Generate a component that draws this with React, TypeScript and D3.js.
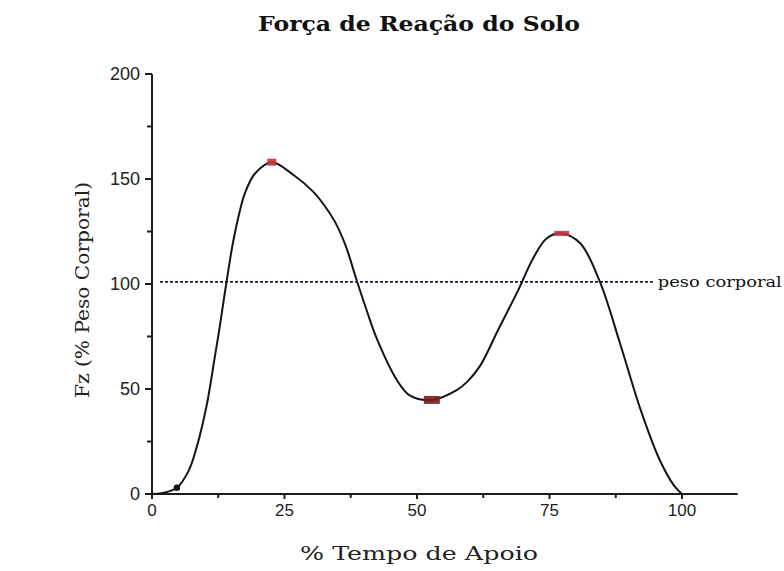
import React from "react";
import * as d3 from "d3";

const title = "Força de Reação do Solo";
const xTitle = "% Tempo de Apoio";
const yTitle = "Fz (% Peso Corporal)";
const refLabel = "peso corporal";

const xTicks = [0, 25, 50, 75, 100];
const xMinorTicks = [12.5, 37.5, 62.5, 87.5];
const yTicks = [0, 50, 100, 150, 200];
const yMinorTicks = [25, 75, 125, 175];

const curveX = [0, 2, 4.7, 6.9, 8.4, 10.3, 11.9, 12.8, 14, 15.3, 16.5, 17.5, 19.4, 22.6, 26.7, 30.4, 32.5, 34.5, 36.5, 38.6, 40.5, 42.4, 46.2, 48.7, 52.8, 57.5, 59.5, 61.9, 65.3, 69.1, 71.9, 74.5, 77.3, 80.8, 84.5, 88.3, 92.1, 95.8, 98.5, 100];
const curveY = [0, 0.5, 3, 11, 22, 42, 66, 80, 100, 120, 134, 143, 152.5, 158, 151.9, 144, 137.5, 129.7, 118.5, 101.9, 87.5, 74.1, 54.3, 46.8, 44.8, 49.5, 53.5, 61, 78.1, 97.1, 112.2, 121.8, 124.1, 119.4, 101.1, 71.8, 40.8, 16.2, 4, 0];

const markerX = [22.6, 52.8, 77.3];
const markerY = [158, 44.8, 124.1];
const dotX = [4.7];
const dotY = [3];

const refValue = 101;
const refStart = 1.5;
const refEnd = 94.5;

const markerStyles = [
  { w: 9, h: 7, fill: "#c8323c" },
  { w: 16, h: 8, fill: "#7a1c22" },
  { w: 15, h: 5, fill: "#c8323c" },
];

export default function App() {
  const x = d3.scaleLinear().domain([0, 100]).range([152, 682]);
  const y = d3.scaleLinear().domain([0, 200]).range([494, 74]);
  const pts: [number, number][] = curveX.map((v, i) => [v, curveY[i]]);
  const line = d3
    .line<[number, number]>()
    .x((d) => x(d[0]))
    .y((d) => y(d[1]))
    .curve(d3.curveCatmullRom.alpha(0.5));
  const axisColor = "#1e1e1e";
  const tickFont = "'Liberation Sans', Arial, sans-serif";
  const serif = "'DejaVu Serif', 'Liberation Serif', serif";
  const xEnd = 110.5;

  return (
    <svg width={784} height={571} style={{ display: "block", position: "absolute", left: 0, top: 0, background: "#fff" }}>
      <rect x={0} y={0} width={784} height={571} fill="#fff" />
      <text x={419} y={31} textAnchor="middle" fontFamily={serif} fontWeight="bold" fontSize={20} fill="#111" textLength={322} lengthAdjust="spacingAndGlyphs">
        {title}
      </text>

      {/* axes */}
      <line x1={x(0)} x2={x(0)} y1={y(0)} y2={y(200)} stroke={axisColor} strokeWidth={2} />
      <line x1={x(0)} x2={x(xEnd)} y1={y(0)} y2={y(0)} stroke={axisColor} strokeWidth={2} />
      {yTicks.map((t) => (
        <g key={"yt" + t}>
          <line x1={x(0) - 7} x2={x(0)} y1={y(t)} y2={y(t)} stroke={axisColor} strokeWidth={2} />
          <text x={x(0) - 12} y={y(t) + 6} textAnchor="end" fontFamily={tickFont} fontSize={18} fill="#222">
            {t}
          </text>
        </g>
      ))}
      {yMinorTicks.map((t) => (
        <line key={"ym" + t} x1={x(0) - 5} x2={x(0)} y1={y(t)} y2={y(t)} stroke={axisColor} strokeWidth={2} />
      ))}
      {xTicks.map((t) => (
        <g key={"xt" + t}>
          <line x1={x(t)} x2={x(t)} y1={y(0)} y2={y(0) + 5} stroke={axisColor} strokeWidth={2} />
          <text x={x(t)} y={y(0) + 22} textAnchor="middle" fontFamily={tickFont} fontSize={17} fill="#222">
            {t}
          </text>
        </g>
      ))}
      {xMinorTicks.map((t) => (
        <line key={"xm" + t} x1={x(t)} x2={x(t)} y1={y(0)} y2={y(0) + 4} stroke={axisColor} strokeWidth={2} />
      ))}

      <text x={419} y={560} textAnchor="middle" fontFamily={serif} fontSize={19} fill="#222" textLength={238} lengthAdjust="spacingAndGlyphs">
        {xTitle}
      </text>
      <text transform="translate(89,290) rotate(-90)" textAnchor="middle" fontFamily={serif} fontSize={18} fill="#222" textLength={216} lengthAdjust="spacingAndGlyphs">
        {yTitle}
      </text>

      {/* reference line */}
      <line x1={x(refStart)} x2={x(refEnd)} y1={y(refValue)} y2={y(refValue)} stroke="#141a38" strokeWidth={1.6} strokeDasharray="3,2" />
      <text x={x(refEnd) + 5} y={y(refValue) + 5} fontFamily={serif} fontSize={15} fill="#111" textLength={124} lengthAdjust="spacingAndGlyphs">
        {refLabel}
      </text>

      {/* curve */}
      <path d={line(pts) ?? ""} fill="none" stroke="#151515" strokeWidth={2} />

      {markerX.map((mx, i) => (
        <rect key={"m" + i} x={x(mx) - markerStyles[i].w / 2} y={y(markerY[i]) - markerStyles[i].h / 2} width={markerStyles[i].w} height={markerStyles[i].h} fill={markerStyles[i].fill} opacity={0.9} />
      ))}
      {dotX.map((dx, i) => (
        <circle key={"d" + i} cx={x(dx)} cy={y(dotY[i])} r={3.2} fill="#111" />
      ))}
    </svg>
  );
}
